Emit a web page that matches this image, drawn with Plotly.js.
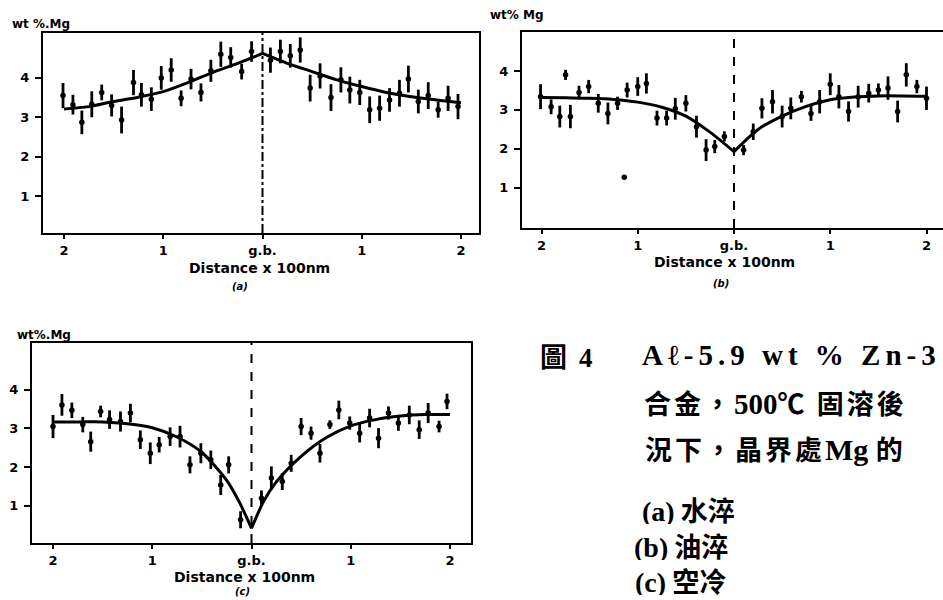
<!DOCTYPE html>
<html>
<head>
<meta charset="utf-8">
<script src="https://cdn.plot.ly/plotly-3.0.1.min.js"></script>
<style>html,body{margin:0;padding:0;overflow:hidden;background:#fff}#chart{width:943px;height:600px}</style>
</head>
<body>
<div id="chart"></div>
<script>
// ---- tick labels ----
const xTickVals = [-2, -1, 0, 1, 2];
const xTickText = ['2', '1', 'g.b.', '1', '2'];
const yTickVals = [1, 2, 3, 4];

// ---- (a) water quench ----
const aX = [-2.01,-1.91,-1.82,-1.72,-1.62,-1.52,-1.42,-1.30,-1.22,-1.12,-1.02,-0.92,-0.82,-0.72,-0.62,-0.52,-0.42,-0.32,-0.21,-0.11,0.08,0.18,0.28,0.38,0.48,0.58,0.69,0.79,0.88,0.98,1.08,1.18,1.28,1.38,1.47,1.57,1.67,1.77,1.87,1.97];
const aY = [3.55,3.32,2.87,3.33,3.63,3.3,2.93,3.88,3.57,3.46,4.0,4.2,3.48,3.97,3.63,4.18,4.6,4.52,4.16,4.67,4.45,4.67,4.56,4.71,3.74,4.05,3.5,3.95,3.69,3.63,3.19,3.23,3.44,3.61,3.97,3.4,3.55,3.19,3.48,3.27];
const aErr = [.32,.25,.3,.33,.2,.28,.34,.32,.3,.3,.3,.3,.2,.26,.23,.28,.32,.26,.2,.26,.32,.3,.3,.32,.34,.32,.34,.32,.34,.32,.34,.32,.3,.34,.34,.3,.34,.2,.32,.32];
const abCurveX = [-2,-1.75,-1.5,-1.25,-1,-0.75,-0.5,-0.25,0,0.25,0.5,0.75,1,1.25,1.5,1.75,2];
const aCurveY = [3.21,3.27,3.40,3.51,3.65,3.88,4.14,4.37,4.62,4.37,4.16,3.95,3.78,3.63,3.52,3.44,3.37];

// ---- (b) oil quench ----
const bX = [-2.01,-1.90,-1.81,-1.75,-1.70,-1.61,-1.51,-1.41,-1.31,-1.21,-1.14,-1.11,-1.00,-0.91,-0.80,-0.70,-0.61,-0.50,-0.39,-0.29,-0.20,-0.10,0.10,0.20,0.29,0.40,0.50,0.59,0.70,0.80,0.89,1.00,1.09,1.19,1.29,1.40,1.50,1.60,1.70,1.79,1.90,2.00];
const bY = [3.34,3.08,2.83,3.9,2.83,3.45,3.6,3.17,2.91,3.17,1.27,3.51,3.6,3.68,2.79,2.79,3.03,3.17,2.57,1.97,2.06,2.32,1.97,2.44,3.04,3.21,2.83,3.04,3.34,2.91,3.21,3.66,3.34,2.96,3.34,3.43,3.51,3.56,2.96,3.9,3.6,3.3];
const bErr = [.32,.19,.28,.13,.3,.17,.17,.24,.28,.17,0,.19,.24,.26,.19,.19,.28,.21,.28,.28,.17,.13,.13,.21,.26,.3,.28,.28,.15,.19,.3,.28,.3,.26,.28,.24,.17,.3,.28,.3,.17,.3];
const bCurveY = [3.32,3.31,3.30,3.27,3.20,3.07,2.84,2.43,1.93,2.50,2.84,3.09,3.26,3.33,3.36,3.36,3.35];

// ---- (c) air cool ----
const cX = [-2.0,-1.91,-1.81,-1.70,-1.62,-1.52,-1.43,-1.32,-1.22,-1.12,-1.02,-0.93,-0.82,-0.72,-0.62,-0.51,-0.41,-0.31,-0.23,-0.11,0.10,0.20,0.31,0.40,0.50,0.60,0.69,0.79,0.88,0.99,1.09,1.19,1.28,1.38,1.48,1.59,1.69,1.78,1.89,1.97];
const cY = [3.05,3.61,3.47,3.1,2.66,3.44,3.23,3.18,3.4,2.71,2.36,2.58,2.79,2.79,2.06,2.36,2.19,1.54,2.06,0.64,1.2,1.72,1.63,2.1,3.05,2.88,2.36,3.1,3.48,3.14,2.88,3.27,2.75,3.4,3.14,3.35,2.97,3.4,3.05,3.7];
const cErr = [.3,.28,.2,.2,.26,.15,.24,.26,.24,.24,.28,.2,.24,.28,.22,.26,.24,.26,.22,.22,.2,.3,.22,.22,.22,.17,.24,.11,.24,.17,.24,.24,.26,.17,.2,.24,.24,.26,.15,.2];
const cCurveX = [-2,-1.75,-1.5,-1.25,-1,-0.75,-0.5,-0.25,-0.125,0,0.125,0.25,0.5,0.75,1,1.25,1.5,1.75,2];
const cCurveY = [3.17,3.17,3.17,3.12,3.02,2.78,2.38,1.66,1.11,0.42,1.13,1.62,2.28,2.76,3.07,3.23,3.32,3.36,3.36];

// ---- texts ----
const yLabels = ['wt %.Mg', 'wt% Mg', 'wt%.Mg'];
const xTitle = 'Distance x 100nm';
const subLabels = ['(a)', '(b)', '(c)'];

const W = 943, H = 600;
const PX = v => v / W;
const PY = v => 1 - v / H;
const BOLD = {family: 'DejaVu Sans, Liberation Sans, sans-serif', weight: 'bold', color: '#000'};

function xAxis(l, r, c, unit, anchor) {
  return {
    domain: [PX(l), PX(r)], range: [(l - c) / unit, (r - c) / unit], anchor: anchor,
    tickvals: xTickVals, ticktext: xTickText,
    showline: true, mirror: true, linewidth: 2, linecolor: '#000',
    ticks: 'outside', ticklen: 4, tickwidth: 2, tickcolor: '#000',
    showgrid: false, zeroline: false, fixedrange: true,
    tickfont: Object.assign({size: 13}, BOLD)
  };
}
function yAxis(top, bot, range, anchor) {
  return {
    domain: [PY(bot), PY(top)], range: range, anchor: anchor,
    tickvals: yTickVals,
    showline: true, mirror: true, linewidth: 2, linecolor: '#000',
    ticks: 'outside', ticklen: 6, tickwidth: 2, tickcolor: '#000', ticklabelstandoff: 3,
    showgrid: false, zeroline: false, fixedrange: true,
    tickfont: Object.assign({size: 13}, BOLD)
  };
}

function pointsTrace(x, y, err, xa, ya) {
  return {
    type: 'scatter', mode: 'markers', x: x, y: y, xaxis: xa, yaxis: ya,
    marker: {color: '#000', size: 5.5},
    error_y: {type: 'data', array: err, visible: true, color: '#000', thickness: 2.8, width: 0},
    showlegend: false, hoverinfo: 'x+y'
  };
}
function curveTraces(cx, cy, xa, ya) {
  const i0 = cx.indexOf(0);
  const mk = (xs, ys) => ({
    type: 'scatter', mode: 'lines', x: xs, y: ys, xaxis: xa, yaxis: ya,
    line: {color: '#000', width: 3, shape: 'spline', smoothing: 0.8},
    showlegend: false, hoverinfo: 'skip'
  });
  return [mk(cx.slice(0, i0 + 1), cy.slice(0, i0 + 1)), mk(cx.slice(i0), cy.slice(i0))];
}
function gbLine(xa, ya, dash) {
  return {type: 'line', xref: xa, yref: ya + ' domain', x0: 0, x1: 0, y0: 0, y1: 1,
          line: {color: '#000', width: 2, dash: dash}};
}

const data = [
  pointsTrace(aX, aY, aErr, 'x', 'y'), ...curveTraces(abCurveX, aCurveY, 'x', 'y'),
  pointsTrace(bX, bY, bErr, 'x2', 'y2'), ...curveTraces(abCurveX, bCurveY, 'x2', 'y2'),
  pointsTrace(cX, cY, cErr, 'x3', 'y3'), ...curveTraces(cCurveX, cCurveY, 'x3', 'y3')
];

function ann(text, x, y, font, xanchor, h) {
  const a = {text: text, xref: 'paper', yref: 'paper', x: PX(x), y: PY(y),
          xanchor: xanchor || 'center', yanchor: 'middle', showarrow: false, font: font};
  if (h) a.height = h;
  return a;
}
const small = Object.assign({size: 12}, BOLD);
const titleF = Object.assign({size: 14}, BOLD);
const subF = {family: 'DejaVu Sans, sans-serif', size: 10, weight: 'bold', style: 'italic', color: '#000'};
const CJK = {family: 'Noto Sans CJK TC, Noto Sans CJK SC, sans-serif', size: 27, weight: 'bold', color: '#000'};
const SER = 'font-family:Liberation Serif;font-weight:bold';
const SP = 'letter-spacing:3px';

const annotations = [
  ann(yLabels[0], 10, 24, small, 'left'),
  ann(yLabels[1], 488, 15, small, 'left'),
  ann(yLabels[2], 15, 335, small, 'left'),
  ann(xTitle, 259, 268, titleF),
  ann(xTitle, 724, 262, titleF),
  ann(xTitle, 244, 577, titleF),
  ann(subLabels[0], 240, 287, subF),
  ann(subLabels[1], 721, 283, subF),
  ann(subLabels[2], 243, 591, subF),
  ann('<span style="letter-spacing:12px">圖</span><span style="' + SER + '">4</span>', 538, 355, CJK, 'left'),
  ann('<span style="' + SER + ';font-size:29px;letter-spacing:5px">Aℓ-5.9 wt % Zn-3</span>', 640, 355, CJK, 'left'),
  ann('<span style="' + SP + '">合金，</span><span style="' + SER + ';font-size:29px">500</span><span style="' + SP + '">℃ 固溶後</span>', 642, 402, CJK, 'left'),
  ann('<span style="' + SP + '">況下，晶界處</span><span style="' + SER + ';font-size:30px">Mg </span>的', 643, 448, CJK, 'left'),
  ann('<span style="' + SER + ';font-size:28px">(a)</span> 水淬', 640, 509, CJK, 'left', 30),
  ann('<span style="' + SER + ';font-size:28px">(b)</span> 油淬', 632, 545, CJK, 'left', 30),
  ann('<span style="' + SER + ';font-size:28px">(c)</span> 空冷', 633, 580, CJK, 'left', 30)
];

const layout = {
  width: W, height: H, margin: {l: 0, r: 0, t: 0, b: 0},
  paper_bgcolor: '#fff', plot_bgcolor: '#fff', showlegend: false,
  xaxis: xAxis(43, 479, 262.5, 99.25, 'y'),
  yaxis: yAxis(33, 233, [0.06, 5.14], 'x'),
  xaxis2: xAxis(522, 943, 734, 96.25, 'y2'),
  yaxis2: yAxis(32, 228, [-0.03, 5.0], 'x2'),
  xaxis3: xAxis(32, 471, 251.5, 99.25, 'y3'),
  yaxis3: yAxis(343, 543, [0.04, 5.21], 'x3'),
  shapes: [gbLine('x', 'y', 'dashdot'), gbLine('x2', 'y2', 'dash'), gbLine('x3', 'y3', 'dash')],
  annotations: annotations
};

Plotly.newPlot('chart', data, layout, {staticPlot: true, displayModeBar: false});
</script>
</body>
</html>
